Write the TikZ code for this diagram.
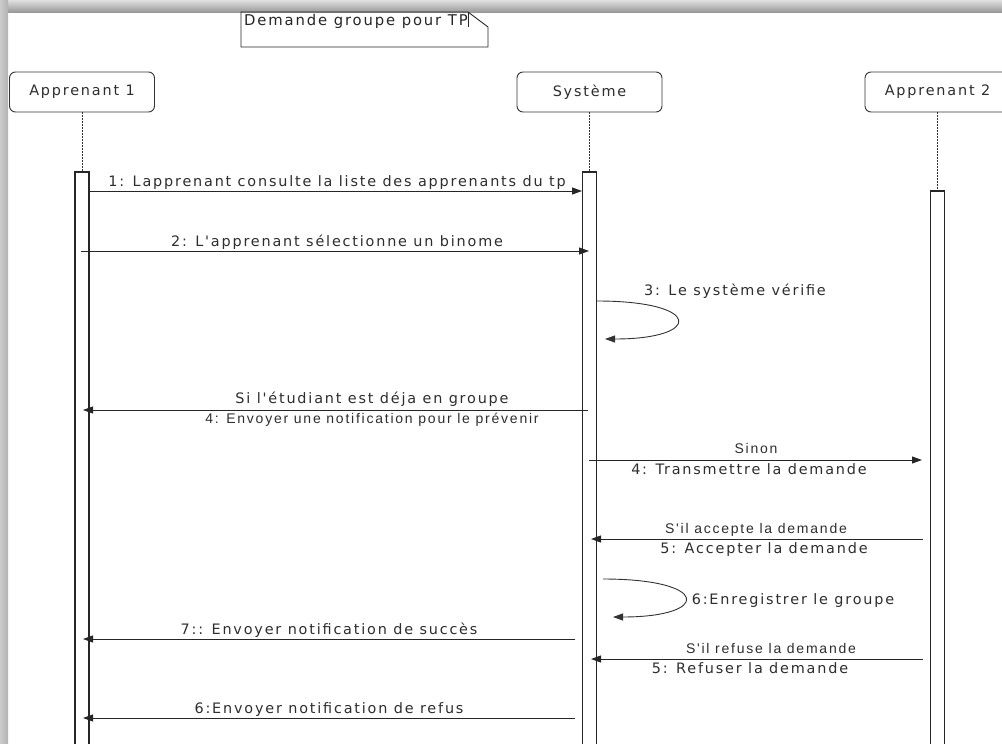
\documentclass[tikz,border=0pt]{standalone}
\usepackage{fontspec}
\setmainfont{DejaVu Sans}[LetterSpace=12.6, Ligatures=TeXOff]
\newfontfamily\thinfont{Liberation Sans}[LetterSpace=12.6, Ligatures=TeXOff]
\usetikzlibrary{arrows.meta}
\tikzset{
  head/.style={draw=black!80, line width=0.9pt, rounded corners=6pt, fill=white,
    minimum width=145pt, minimum height=40pt, inner sep=0pt,
    font=\fontsize{14.4}{16}\selectfont, text=black!82},
  actbar/.style={draw=black!85, line width=1.2pt, fill=white, minimum width=14pt, inner sep=0pt},
  lifeline/.style={draw=black!80, line width=0.9pt, dash pattern=on 1.5pt off 1.5pt},
  msg/.style={draw=black!85, line width=0.9pt, -{Triangle[length=10pt,width=7pt]}},
  loopmsg/.style={draw=black!80, line width=0.9pt, -{Triangle[length=10pt,width=7pt]}},
  lbl/.style={anchor=base, inner sep=0pt, font=\fontsize{14.4}{16}\selectfont, text=black!82},
  slbl/.style={anchor=base, inner sep=0pt, font=\thinfont\fontsize{14}{16}\selectfont, text=black!82},
}
\begin{document}
\begin{tikzpicture}[x=1pt,y=-1pt]
\useasboundingbox (0,0) rectangle (1002,744);
\clip (0,0) rectangle (1002,744);
\fill[white] (0,0) rectangle (1002,744);

% window frame shading
\shade[top color=black!12, bottom color=black!40] (0,0) rectangle (1002,12);
\shade[left color=black!20, right color=black!30] (0,0) rectangle (8,744);

% title note with folded corner
\node[anchor=north west, inner sep=2pt, font=\fontsize{14.8}{16}\selectfont, text=black!85] (note) at (242,12) {Demande groupe pour TP};
\draw[black!85, line width=0.9pt] (241,12) -- (468,12) -- (488,27) -- (488,47) -- (241,47) -- cycle;
\draw[black!85, line width=0.9pt] (468,12) -- (468,27);

% participants
\node[head] (a1) at (82,92) {Apprenant 1};
\node[head] (sys) at (589.5,92) {Système};
\node[head] (a2) at (937.5,92) {Apprenant 2};

% activation bars
\node[actbar, minimum height=588pt] (act1) at (82,466) {};
\node[actbar, minimum height=588pt] (act2) at (589.5,466) {};
\node[actbar, minimum height=569pt] (act3) at (937.5,475.5) {};

% lifelines
\draw[lifeline] (a1.south) -- (act1.north);
\draw[lifeline] (sys.south) -- (act2.north);
\draw[lifeline] (a2.south) -- (act3.north);

% message end points
\coordinate (m1s) at (89,191);   \coordinate (m1e) at (582,191);
\coordinate (m2s) at (81,251);   \coordinate (m2e) at (589,251);
\coordinate (l1s) at (597,301);  \coordinate (l1e) at (605,339);
\coordinate (m4s) at (588,410);  \coordinate (m4e) at (83,410);
\coordinate (m5s) at (589,460);  \coordinate (m5e) at (922,460);
\coordinate (m6s) at (923,539);  \coordinate (m6e) at (591,539);
\coordinate (l2s) at (603,579);  \coordinate (l2e) at (613,617);
\coordinate (m8s) at (575,639);  \coordinate (m8e) at (83,639);
\coordinate (m9s) at (923,659);  \coordinate (m9e) at (591,659);
\coordinate (m10s) at (575,718); \coordinate (m10e) at (83,718);

% messages
\draw[msg] (m1s) -- (m1e);
\draw[msg] (m2s) -- (m2e);
\draw[loopmsg] (l1s) .. controls (703,301) and (703,339) .. (l1e);
\draw[msg] (m4s) -- (m4e);
\draw[msg] (m5s) -- (m5e);
\draw[msg] (m6s) -- (m6e);
\draw[loopmsg] (l2s) .. controls (711,579) and (711,617) .. (l2e);
\draw[msg] (m8s) -- (m8e);
\draw[msg] (m9s) -- (m9e);
\draw[msg] (m10s) -- (m10e);

% message labels
\node[lbl] (t1) at (337,186) {1: Lapprenant consulte la liste des apprenants du tp};
\node[lbl] (t2) at (337,246) {2: L'apprenant sélectionne un binome};
\node[lbl] (t3) at (735,295) {3: Le système vérifie};
\node[lbl] (t4a) at (372,403) {Si l'étudiant est déja en groupe};
\node[slbl] (t4b) at (372,423) {4: Envoyer une notification pour le prévenir};
\node[slbl] (t5a) at (756,453) {Sinon};
\node[lbl] (t5b) at (749,474) {4: Transmettre la demande};
\node[slbl] (t6a) at (756,533) {S'il accepte la demande};
\node[lbl] (t6b) at (764,553) {5: Accepter la demande};
\node[lbl] (t7) at (793,604) {6:Enregistrer le groupe};
\node[lbl] (t8) at (329,634) {7:: Envoyer notification de succès};
\node[slbl] (t9a) at (771,653) {S'il refuse la demande};
\node[lbl] (t9b) at (750,673) {5: Refuser la demande};
\node[lbl] (t10) at (329,713) {6:Envoyer notification de refus};
\end{tikzpicture}
\end{document}
